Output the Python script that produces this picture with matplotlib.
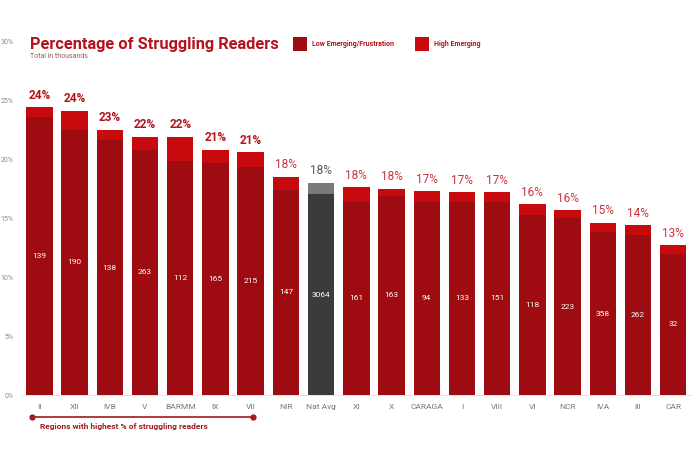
import matplotlib.pyplot as plt
from matplotlib.patches import Rectangle
from matplotlib.lines import Line2D

plt.rcParams['font.family'] = ['Roboto', 'DejaVu Sans']

regions = ["II", "XII", "IVB", "V", "BARMM", "IX", "VII", "NIR", "Nat Avg",
           "XI", "X", "CARAGA", "I", "VIII", "VI", "NCR", "IVA", "III", "CAR"]
total_pct = [24.4, 24.1, 22.5, 21.9, 21.9, 20.8, 20.6, 18.5, 18.0,
             17.6, 17.5, 17.3, 17.2, 17.2, 16.2, 15.7, 14.6, 14.4, 12.7]
low_pct = [23.6, 22.5, 21.6, 20.8, 19.8, 19.7, 19.3, 17.4, 17.0,
           16.4, 16.9, 16.4, 16.4, 16.4, 15.3, 15.0, 13.8, 13.6, 12.0]
pct_labels = ["24%", "24%", "23%", "22%", "22%", "21%", "21%", "18%", "18%",
              "18%", "18%", "17%", "17%", "17%", "16%", "16%", "15%", "14%", "13%"]
totals_k = [139, 190, 138, 263, 112, 165, 215, 147, 3064,
            161, 163, 94, 133, 151, 118, 223, 358, 262, 32]
n_top = 7  # regions with highest share

LOW = "#9E0B10"; HIGH = "#C70A0E"; AVG_LOW = "#3B3B3B"; AVG_HIGH = "#7A7A7A"
TITLEC = "#B5121B"; LIGHTR = "#C8323A"; GREY = "#8A8A8A"

fig = plt.figure(figsize=(7.0, 4.66), dpi=100)
ax = fig.add_axes([0.031, 0.152, 0.956, 0.760])

x = list(range(len(regions)))
high_part = [t - l for t, l in zip(total_pct, low_pct)]
low_cols = [AVG_LOW if r == "Nat Avg" else LOW for r in regions]
high_cols = [AVG_HIGH if r == "Nat Avg" else HIGH for r in regions]
ax.bar(x, low_pct, width=0.75, color=low_cols, zorder=2)
ax.bar(x, high_part, bottom=low_pct, width=0.75, color=high_cols, zorder=2)

for i, r in enumerate(regions):
    if r == "Nat Avg":
        col, wt = "#555555", "normal"
    elif i < n_top:
        col, wt = TITLEC, "bold"
    else:
        col, wt = LIGHTR, "normal"
    ax.text(i, total_pct[i] + 0.45, pct_labels[i], ha="center", va="bottom",
            fontsize=8.5, color=col, fontweight=wt)
    ax.text(i, low_pct[i] / 2, str(totals_k[i]), ha="center", va="center",
            fontsize=6, color="white")

ax.set_xlim(-0.5, len(regions) - 0.5)
ax.set_ylim(0, 30)
ax.set_yticks(range(0, 31, 5))
ax.set_yticklabels([f"{v}%" for v in range(0, 31, 5)], fontsize=5, color=GREY)
ax.set_xticks(x)
ax.set_xticklabels(regions, fontsize=6, color="#777777")
ax.tick_params(axis="both", length=0, pad=6)
for s in ["top", "right", "left"]:
    ax.spines[s].set_visible(False)
ax.spines["bottom"].set_color("#DDDDDD")
ax.spines["bottom"].set_linewidth(0.6)

# title, subtitle, legend
fig.text(30 / 700, 1 - 44 / 466, "Percentage of Struggling Readers", fontsize=11.8,
         fontweight="bold", color=TITLEC, va="center", ha="left")
fig.text(30 / 700, 1 - 57 / 466, "Total in thousands", fontsize=5,
         color="#A05A5E", va="center", ha="left")
for (x0, lab, c) in [(293, "Low Emerging/Frustration", LOW), (415, "High Emerging", HIGH)]:
    fig.patches.append(Rectangle((x0 / 700, 1 - 51 / 466), 14 / 700, 14 / 466,
                                 transform=fig.transFigure, facecolor=c, edgecolor="none"))
    fig.text((x0 + 19) / 700, 1 - 44 / 466, lab, fontsize=5, fontweight="bold",
             color=TITLEC, va="center", ha="left")

# bracket under the top regions
y_br = 1 - 417 / 466
fig.add_artist(Line2D([32 / 700, 253 / 700], [y_br, y_br], transform=fig.transFigure,
                      color="#A01A20", lw=1.2, marker="o", markersize=3.5,
                      markevery=[0, 1]))
fig.text(40 / 700, 1 - 426 / 466, "Regions with highest % of struggling readers",
         fontsize=6, fontweight="bold", color="#A01A20", va="center", ha="left")

fig.savefig("out.png", dpi=100)
